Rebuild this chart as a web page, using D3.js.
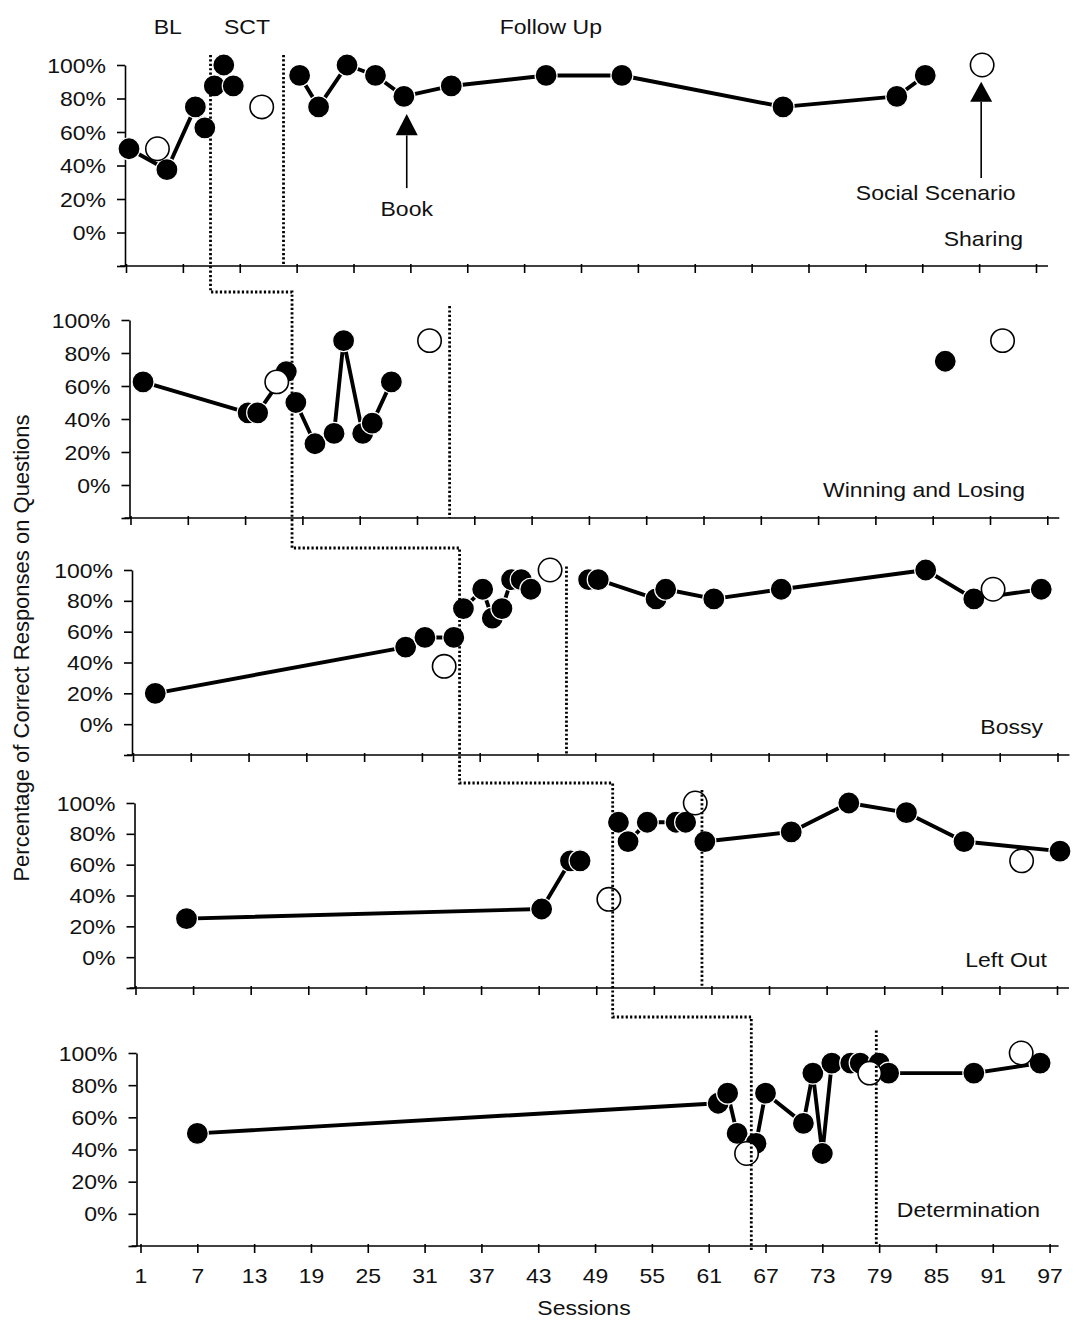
<!DOCTYPE html>
<html>
<head>
<meta charset="utf-8">
<script src="https://cdn.jsdelivr.net/npm/d3@7"></script>
<style>
  body { margin: 0; background: #fff; }
  text { font-family: "Liberation Sans", Arial, sans-serif; fill: #111; }
</style>
</head>
<body>
<svg id="chart" width="1073" height="1320"></svg>
<script>
// ---- Data: [session, % correct] ----
const tickSessions = [1, 7, 13, 19, 25, 31, 37, 43, 49, 55, 61, 67, 73, 79, 85, 91, 97];
const yTickValues = [100, 80, 60, 40, 20, 0, -20];
const panelNames = ["Sharing", "Winning and Losing", "Bossy", "Left Out", "Determination"];
const phaseNames = ["BL", "SCT", "Follow Up"];

const sharingBL = [[1, 50], [5, 37.5], [8, 75], [9, 62.5]];
const sharingSCT = [[10, 87.5], [11, 100], [12, 87.5]];
const sharingFU = [[19, 93.75], [21, 75], [24, 100], [27, 93.75], [30, 81.25], [35, 87.5], [45, 93.75], [53, 93.75], [70, 75], [82, 81.25], [85, 93.75]];
const sharingProbe = [[4, 50], [15, 75], [91, 100]];

const winningBL = [[2, 62.5], [13, 43.75], [14, 43.75], [17, 68.75]];
const winningSCT = [[18, 50], [20, 25], [22, 31.25], [23, 87.5], [25, 31.25], [26, 37.5], [28, 62.5]];
const winningFU = [[86, 75]];
const winningProbe = [[16, 62.5], [32, 87.5], [92, 87.5]];

const bossyBL = [[3, 20], [29, 50], [31, 56.25], [34, 56.25]];
const bossySCT = [[35, 75], [37, 87.5], [38, 68.75], [39, 75], [40, 93.75], [41, 93.75], [42, 87.5]];
const bossyFU = [[48, 93.75], [49, 93.75], [55, 81.25], [56, 87.5], [61, 81.25], [68, 87.5], [83, 100], [88, 81.25], [95, 87.5]];
const bossyProbe = [[33, 37.5], [44, 100], [90, 87.5]];

const leftOutBL = [[6, 25], [43, 31.25], [46, 62.5], [47, 62.5]];
const leftOutSCT = [[51, 87.5], [52, 75], [54, 87.5], [57, 87.5], [58, 87.5]];
const leftOutFU = [[60, 75], [69, 81.25], [75, 100], [81, 93.75], [87, 75], [97, 68.75]];
const leftOutProbe = [[50, 37.5], [59, 100], [93, 62.5]];

const determinationBL = [[7, 50], [62, 68.75], [63, 75], [64, 50]];
const determinationSCT = [[66, 43.75], [67, 75], [71, 56.25], [72, 87.5], [73, 37.5], [74, 93.75], [76, 93.75], [77, 93.75]];
const determinationFU = [[79, 93.75], [80, 87.5], [89, 87.5], [96, 93.75]];
const determinationProbe = [[65, 37.5], [78, 87.5], [94, 100]];

// Phase changes (session where the condition line falls)
const interventionStart = [9.6, 17.6, 34.6, 50.4, 65.5];
const followUpStart = [17.3, 34.1, 45.7, 59.7, 78.7];

const baselineSeries = [sharingBL, winningBL, bossyBL, leftOutBL, determinationBL];
const sctSeries = [sharingSCT, winningSCT, bossySCT, leftOutSCT, determinationSCT];
const followUpSeries = [sharingFU, winningFU, bossyFU, leftOutFU, determinationFU];
const probeSeries = [sharingProbe, winningProbe, bossyProbe, leftOutProbe, determinationProbe];

// ---- Layout ----
const panelX = [[129, 1039], [133.5, 1050.3], [136, 1060.5], [138.5, 1060], [140.5, 1049.6]]; // sessions 1..97
const panelY = [[266, 65], [518, 320], [755, 570], [988, 803], [1246, 1053]];            // -20%..100%
const tickShift = [-3, -3, -3, -3, 0];
const nameEnd = [1023, 1025, 1043, 1047, 1040];
const nameRise = [20, 21, 21, 21, 29];
const lineTop = [106, 108.5, 102.3, 108.4, 114];   // top of the dotted condition lines (%)
const stairY = [292, 548, 783, 1017, 1252];         // horizontal steps of the staggered line
const STRETCH = 1.15;
const R_FILLED = 11, R_OPEN = 12.5;
const DOT = { width: 2.8, dash: "2.2,2.2" };

const svg = d3.select("#chart");

function label(g, x, y, str, anchor) {
  return g.append("text")
    .attr("transform", `translate(${x},${y}) scale(${STRETCH},1)`)
    .attr("text-anchor", anchor)
    .attr("font-size", 20)
    .text(str);
}

const xScales = [], yScales = [];

for (let i = 0; i < 5; i++) {
  const x = d3.scaleLinear().domain([1, 97]).range(panelX[i]);
  const y = d3.scaleLinear().domain([-20, 100]).range(panelY[i]);
  xScales.push(x); yScales.push(y);
  const g = svg.append("g");
  const axisX = x(1) - 4;

  // y axis
  const ya = g.append("g").attr("transform", `translate(${axisX},0)`)
    .call(d3.axisLeft(y).tickValues(yTickValues).tickSize(8).tickSizeOuter(0)
      .tickFormat(d => d >= 0 ? d + "%" : ""));
  ya.select(".domain").attr("stroke", "#000").attr("stroke-width", 1.6);
  ya.selectAll(".tick line").attr("stroke", "#000").attr("stroke-width", 1.6);
  ya.selectAll(".tick text")
    .attr("x", null).attr("dy", "0.35em")
    .attr("transform", `translate(-19,0) scale(${STRETCH},1)`)
    .attr("font-size", 20).attr("font-family", null).attr("fill", "#111");

  // x axis
  const xa = g.append("g").attr("transform", `translate(${tickShift[i]},${y(-20)})`)
    .call(d3.axisBottom(x).tickValues(tickSessions).tickSize(7).tickSizeOuter(0)
      .tickFormat(i === 4 ? (d => d) : () => ""));
  xa.select(".domain").remove();
  xa.selectAll(".tick line").attr("stroke", "#000").attr("stroke-width", 1.6).attr("y1", -2);
  xa.selectAll(".tick text")
    .attr("y", null).attr("dy", null)
    .attr("transform", `translate(0,37) scale(${STRETCH},1)`)
    .attr("font-size", 20).attr("font-family", null).attr("fill", "#111");
  g.append("line")
    .attr("x1", axisX - 5).attr("x2", x(97) + 9)
    .attr("y1", y(-20)).attr("y2", y(-20))
    .attr("stroke", "#000").attr("stroke-width", 1.6);

  // connected data paths, one per condition
  const line = d3.line().x(d => x(d[0])).y(d => y(d[1]));
  [baselineSeries[i], sctSeries[i], followUpSeries[i]].forEach(seg => {
    g.append("path").datum(seg).attr("d", line)
      .attr("fill", "none").attr("stroke", "#000").attr("stroke-width", 3.9)
      .attr("stroke-linejoin", "round");
  });

  // filled markers
  const filled = [].concat(baselineSeries[i], sctSeries[i], followUpSeries[i]);
  g.selectAll("circle.f").data(filled).join("circle").attr("class", "f")
    .attr("cx", d => x(d[0])).attr("cy", d => y(d[1])).attr("r", R_FILLED)
    .attr("fill", "#000").attr("stroke", "#fff").attr("stroke-width", 1.2);

  // open markers
  g.selectAll("circle.o").data(probeSeries[i]).join("circle").attr("class", "o")
    .attr("cx", d => x(d[0])).attr("cy", d => y(d[1])).attr("r", R_OPEN - 0.8)
    .attr("fill", "#fff").attr("stroke", "#000").attr("stroke-width", 1.6);

  // follow-up condition line
  g.append("line")
    .attr("x1", x(followUpStart[i])).attr("x2", x(followUpStart[i]))
    .attr("y1", y(lineTop[i])).attr("y2", y(-20))
    .attr("stroke", "#000").attr("stroke-width", DOT.width).attr("stroke-dasharray", DOT.dash);

  // panel name
  label(g, nameEnd[i], y(-20) - nameRise[i], panelNames[i], "end");
}

// staggered intervention line running through all panels
const stair = [];
for (let i = 0; i < 5; i++) {
  const xi = xScales[i](interventionStart[i]);
  if (i === 0) stair.push([xi, yScales[0](lineTop[0])]);
  else stair.push([xi, stairY[i - 1]]);
  stair.push([xi, stairY[i]]);
  if (i < 4) stair.push([xScales[i + 1](interventionStart[i + 1]), stairY[i]]);
}
svg.append("path").attr("d", d3.line()(stair))
  .attr("fill", "none").attr("stroke", "#000").attr("stroke-width", DOT.width)
  .attr("stroke-dasharray", DOT.dash);

// phase headings above the first panel
const x0 = xScales[0];
label(svg, (x0(1) - 4 + x0(interventionStart[0])) / 2, 34, phaseNames[0], "middle");
label(svg, (x0(interventionStart[0]) + x0(followUpStart[0])) / 2, 34, phaseNames[1], "middle");
label(svg, x0(45.5), 34, phaseNames[2], "middle");

// arrows marking the book and social scenario sessions
const y0 = yScales[0];
function arrow(session, tip, base, tail) {
  const ax = x0(session);
  svg.append("line").attr("x1", ax).attr("x2", ax).attr("y1", y0(base)).attr("y2", y0(tail))
    .attr("stroke", "#000").attr("stroke-width", 1.6);
  svg.append("path")
    .attr("d", `M${ax},${y0(tip)} L${ax - 11},${y0(base)} L${ax + 11},${y0(base)} Z`)
    .attr("fill", "#000");
}
arrow(30.3, 70.7, 58, 26.5);
label(svg, x0(30.3), y0(9.8), "Book", "middle");
arrow(90.9, 90, 78, 32.5);
label(svg, x0(86.1), y0(19.4), "Social Scenario", "middle");

// axis titles
svg.append("text")
  .attr("transform", "translate(29,648) rotate(-90)")
  .attr("text-anchor", "middle").attr("font-size", 22)
  .text("Percentage of Correct Responses on Questions");
label(svg, 584, 1315, "Sessions", "middle");
</script>
</body>
</html>
